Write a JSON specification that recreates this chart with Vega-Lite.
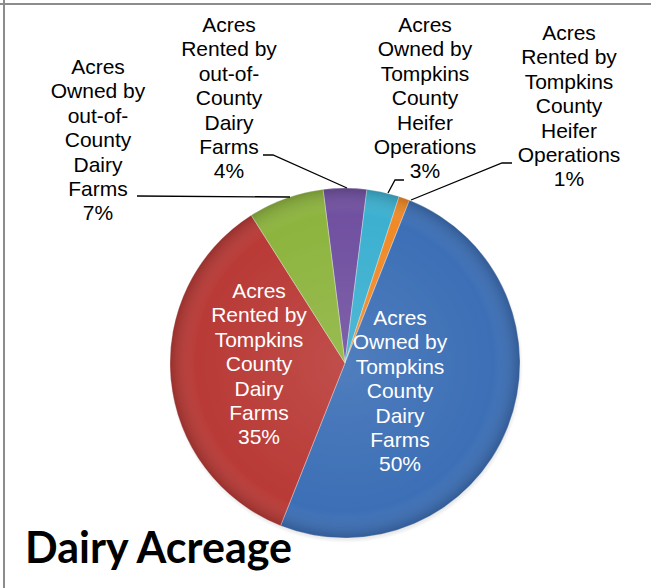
{
  "$schema": "https://vega.github.io/schema/vega-lite/v6.json",
  "width": 651,
  "height": 588,
  "autosize": {"type": "none"},
  "padding": 0,
  "background": "white",
  "config": {"view": {"stroke": null}},
  "datasets": {
    "slices": [
      {"category": "Acres Rented by out-of-County Dairy Farms", "pct": 4, "idx": 1, "label": "Acres\nRented by\nout-of-\nCounty\nDairy\nFarms\n4%", "lx": -116, "ly": 331, "inside": false},
      {"category": "Acres Owned by Tompkins County Heifer Operations", "pct": 3, "idx": 2, "label": "Acres\nOwned by\nTompkins\nCounty\nHeifer\nOperations\n3%", "lx": 80, "ly": 331, "inside": false},
      {"category": "Acres Rented by Tompkins County Heifer Operations", "pct": 1, "idx": 3, "label": "Acres\nRented by\nTompkins\nCounty\nHeifer\nOperations\n1%", "lx": 224, "ly": 323, "inside": false},
      {"category": "Acres Owned by Tompkins County Dairy Farms", "pct": 50, "idx": 4, "label": "Acres\nOwned by\nTompkins\nCounty\nDairy\nFarms\n50%", "lx": 55, "ly": 38, "inside": true},
      {"category": "Acres Rented by Tompkins County Dairy Farms", "pct": 35, "idx": 5, "label": "Acres\nRented by\nTompkins\nCounty\nDairy\nFarms\n35%", "lx": -86, "ly": 65, "inside": true},
      {"category": "Acres Owned by out-of-County Dairy Farms", "pct": 7, "idx": 6, "label": "Acres\nOwned by\nout-of-\nCounty\nDairy\nFarms\n7%", "lx": -247, "ly": 289, "inside": false}
    ],
    "leaders": [
      {"series": "green", "ord": 1, "x": -208, "y": 167},
      {"series": "green", "ord": 2, "x": -55, "y": 166},
      {"series": "purple", "ord": 1, "x": -82, "y": 208},
      {"series": "purple", "ord": 2, "x": -72, "y": 208},
      {"series": "purple", "ord": 3, "x": 2, "y": 175},
      {"series": "cyan", "ord": 1, "x": 59, "y": 183},
      {"series": "cyan", "ord": 2, "x": 50, "y": 183},
      {"series": "cyan", "ord": 3, "x": 43, "y": 170},
      {"series": "orange", "ord": 1, "x": 167, "y": 200},
      {"series": "orange", "ord": 2, "x": 157, "y": 200},
      {"series": "orange", "ord": 3, "x": 66, "y": 163}
    ],
    "frame": [
      {"x": -341, "y": -225, "x2": -341, "y2": 363},
      {"x": -345, "y": 359, "x2": 306, "y2": 359}
    ]
  },
  "layer": [
    {
      "data": {"values": [{}]},
      "mark": {
        "type": "arc", "outerRadius": 177, "theta": 0, "theta2": 6.2832, "xOffset": 1, "yOffset": 3,
        "fill": {"gradient": "radial", "x1": 0.5, "y1": 0.5, "r1": 0, "x2": 0.5, "y2": 0.5, "r2": 0.5,
          "stops": [
            {"offset": 0.9, "color": "rgba(0,0,0,0.35)"},
            {"offset": 1, "color": "rgba(0,0,0,0)"}
          ]}
      },
      "encoding": {
        "x": {"datum": 0, "type": "quantitative", "scale": {"domain": [-345, 306], "nice": false, "zero": false}, "axis": null},
        "y": {"datum": 0, "type": "quantitative", "scale": {"domain": [-225, 363], "nice": false, "zero": false}, "axis": null}
      }
    },
    {
      "data": {"name": "slices"},
      "mark": {"type": "arc", "outerRadius": 175, "stroke": "white", "strokeOpacity": 0.35, "strokeWidth": 1},
      "encoding": {
        "x": {"datum": 0, "type": "quantitative"},
        "y": {"datum": 0, "type": "quantitative"},
        "theta": {"field": "pct", "type": "quantitative", "stack": true, "scale": {"range": [-0.12566, 6.15752]}},
        "order": {"field": "idx", "type": "quantitative"},
        "color": {
          "field": "category", "type": "nominal", "legend": null,
          "scale": {
            "domain": ["Acres Rented by out-of-County Dairy Farms", "Acres Owned by Tompkins County Heifer Operations", "Acres Rented by Tompkins County Heifer Operations", "Acres Owned by Tompkins County Dairy Farms", "Acres Rented by Tompkins County Dairy Farms", "Acres Owned by out-of-County Dairy Farms"],
            "range": ["#7050a0", "#3cb0d0", "#f08a28", "#3c6fb6", "#b93a36", "#8db43e"]
          }
        }
      }
    },
    {
      "data": {"values": [{}]},
      "mark": {
        "type": "arc", "outerRadius": 175, "theta": 0, "theta2": 6.2832,
        "fill": {"gradient": "radial", "x1": 0.5, "y1": 0.5, "r1": 0, "x2": 0.5, "y2": 0.5, "r2": 0.5,
          "stops": [
            {"offset": 0, "color": "rgba(255,255,255,0.10)"},
            {"offset": 0.85, "color": "rgba(255,255,255,0)"},
            {"offset": 1, "color": "rgba(0,0,0,0.18)"}
          ]}
      },
      "encoding": {
        "x": {"datum": 0, "type": "quantitative"},
        "y": {"datum": 0, "type": "quantitative"}
      }
    },
    {
      "data": {"name": "leaders"},
      "mark": {"type": "line", "color": "black", "strokeWidth": 1.3},
      "encoding": {
        "x": {"field": "x", "type": "quantitative"},
        "y": {"field": "y", "type": "quantitative"},
        "detail": {"field": "series"},
        "order": {"field": "ord", "type": "quantitative"}
      }
    },
    {
      "data": {"name": "slices"},
      "transform": [{"filter": "!datum.inside"}],
      "mark": {"type": "text", "align": "center", "baseline": "alphabetic", "font": "Liberation Sans", "fontSize": 21, "lineHeight": 24.4, "lineBreak": "\n", "color": "black"},
      "encoding": {
        "x": {"field": "lx", "type": "quantitative"},
        "y": {"field": "ly", "type": "quantitative"},
        "text": {"field": "label"}
      }
    },
    {
      "data": {"name": "slices"},
      "transform": [{"filter": "datum.inside"}],
      "mark": {"type": "text", "align": "center", "baseline": "alphabetic", "font": "Liberation Sans", "fontSize": 21, "lineHeight": 24.4, "lineBreak": "\n", "color": "white"},
      "encoding": {
        "x": {"field": "lx", "type": "quantitative"},
        "y": {"field": "ly", "type": "quantitative"},
        "text": {"field": "label"}
      }
    },
    {
      "data": {"name": "frame"},
      "mark": {"type": "rule", "color": "#8c8c8c", "strokeWidth": 2},
      "encoding": {
        "x": {"field": "x", "type": "quantitative"},
        "y": {"field": "y", "type": "quantitative"},
        "x2": {"field": "x2"},
        "y2": {"field": "y2"}
      }
    },
    {
      "data": {"values": [{"title": "Dairy Acreage", "tx": -320, "ty": -200}]},
      "mark": {"type": "text", "align": "left", "baseline": "alphabetic", "font": "Lato", "fontWeight": "bold", "fontSize": 43, "color": "black"},
      "encoding": {
        "x": {"field": "tx", "type": "quantitative"},
        "y": {"field": "ty", "type": "quantitative"},
        "text": {"field": "title"}
      }
    }
  ]
}
